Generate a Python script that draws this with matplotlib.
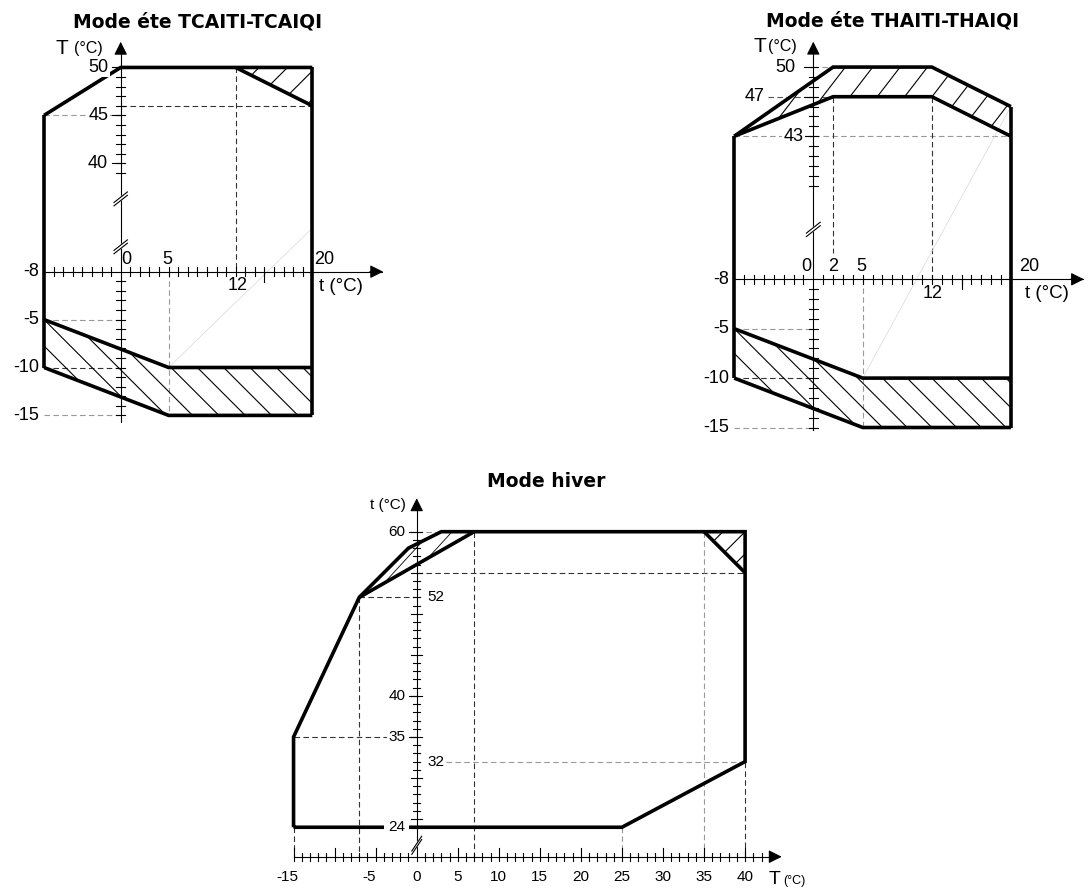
import numpy as np
import matplotlib.pyplot as plt
from matplotlib.patches import Polygon

plt.rcParams['font.family'] = ['Liberation Sans', 'DejaVu Sans']

# --- Mode ete TCAITI-TCAIQI : t outdoor (x), T water (y) ---
tc_top_t = [-8, 0, 20]
tc_top_T = [45, 50, 50]
tc_cut_t = [12, 20]
tc_cut_T = [50, 46]
tc_left_t = [-8, -8]
tc_left_T = [45, -10]
tc_right_t = [20, 20]
tc_right_T = [50, -15]
tc_ylab_hi = [50, 45, 40]
tc_ghost_t = [5, 19.8]
tc_ghost_y = [-10, 4.35]

# --- Mode ete THAITI-THAIQI ---
th_top_t = [-8, 2, 12, 20]
th_out_T = [43, 50, 50, 46]
th_in_T = [43, 47, 47, 43]
th_left_t = [-8, -8]
th_left_T = [43, -10]
th_right_t = [20, 20]
th_right_T = [46, -15]
th_ylab_hi = [50, 47, 43]
th_ghost_t = [5, 20]
th_ghost_T = [-10, 46]

# lower limits, same for both summer modes
low_t = [-8, 5, 20]
low_hi_T = [-5, -10, -10]
low_lo_T = [-10, -15, -15]
ylab_lo = [-5, -10, -15]

# --- Mode hiver : T outdoor (x), t water (y) ---
hv_out_T = [-15, -15, -7, -1, 3, 40, 40, 25, -15]
hv_out_t = [24, 35, 52, 58, 60, 60, 32, 24, 24]
hv_in_T = [-7, 7]
hv_in_t = [52, 60]
hv_cut_T = [35, 40]
hv_cut_t = [60, 55]
hv_ylab_left = [60, 40, 35, 24]
hv_ylab_right = [52, 32]
hv_xlab = [-15, -5, 0, 5, 10, 15, 20, 25, 30, 35, 40]

W, H = 1088, 891
fig = plt.figure(figsize=(W / 100, H / 100), dpi=100)

THICK = dict(color='k', lw=2.6, solid_capstyle='butt', solid_joinstyle='miter', zorder=3)
AXIS = dict(color='k', lw=0.8, zorder=2)
DARK = dict(color='#333333', lw=0.8, ls=(0, (5, 3)), zorder=1)
GRAY = dict(color='#999999', lw=0.8, ls=(0, (5, 3)), zorder=1)
NUM = 13
WHITE = dict(fc='white', ec='none', pad=1)


def panel(box, origin, s):
    l, t, r, b = box
    ax = fig.add_axes([l / W, 1 - b / H, (r - l) / W, (b - t) / H])
    ax.set_xlim((l - origin[0]) / s, (r - origin[0]) / s)
    ax.set_ylim((origin[1] - b) / s, (origin[1] - t) / s)
    ax.set_axis_off()
    return ax


def brk(vals, off):
    # values above the axis break are shifted down
    return [v - off if v > 30 else v for v in vals]


def hatch(ax, xs, ys, slope, c0, dc, lw=0.8):
    poly = Polygon(np.column_stack([xs, ys]), closed=True, fc='none', ec='none')
    ax.add_patch(poly)
    x0, x1 = ax.get_xlim()
    for k in range(-40, 41):
        c = c0 + k * dc
        ln, = ax.plot([x0, x1], [slope * x0 + c, slope * x1 + c], color='k', lw=lw, zorder=2)
        ln.set_clip_path(poly)


def arrow(ax, start, tip):
    ax.annotate('', xy=tip, xytext=start,
                arrowprops=dict(arrowstyle='-|>', color='k', lw=0.8,
                                mutation_scale=20, shrinkA=0, shrinkB=0))


def breakmark(ax, x, y, w, h, gap):
    for d in (-gap / 2, gap / 2):
        ax.plot([x - w / 2, x + w / 2], [y - h / 2 + d, y + h / 2 + d], color='k', lw=0.8, zorder=4)
    ax.fill([x - w / 2, x + w / 2, x + w / 2, x - w / 2],
            [y - h / 2 - gap / 2, y + h / 2 - gap / 2, y + h / 2 + gap / 2, y - h / 2 + gap / 2],
            color='white', zorder=3.5)


def summer_axes(ax, s, off, hi_ticks, title, ylab_hi, ylab_x, xlab_top, xlab_bot, ymax, ybot):
    h = 4.5 / s
    ax.plot([-8, 27.3], [0, 0], **AXIS)
    arrow(ax, (26, 0), (27.4, 0))
    ax.plot([0, 0], [ybot, ymax - 1], **AXIS)
    arrow(ax, (0, ymax - 1.2), (0, ymax))
    for t in range(-7, 20):
        if t != 0:
            ax.plot([t, t], [-h, h], **AXIS)
    ax.plot([15, 15], [0, -10 / s], **AXIS)
    for v in hi_ticks:
        y = v - off
        ax.plot([-h, h], [y, y], **AXIS)
    for v in range(-15, 0):
        ax.plot([-h, h], [v, v], **AXIS)
    for v in ylab_hi:
        ax.plot([-9 / s, 0], [v - off, v - off], **AXIS)
    ax.text(-8.5, 0, '-8', ha='right', va='center', fontsize=NUM)
    for v in ylab_lo:
        ax.text(-8.5, v, str(v), ha='right', va='center', fontsize=NUM)
    for v, x in zip(ylab_hi, ylab_x):
        ax.text(x, v - off, str(v), ha='right', va='center', fontsize=NUM, bbox=WHITE, zorder=4)
    for v, x in xlab_top:
        ax.text(x, 1.25, str(v), ha='center', va='center', fontsize=NUM)
    for v, x in xlab_bot:
        ax.text(x, -1.4, str(v), ha='center', va='center', fontsize=NUM)
    ax.text(8.0, 26.1, title, ha='center', va='center', fontsize=13.5,
            fontweight='bold', family='DejaVu Sans')


# ---------------- TCAITI-TCAIQI ----------------
s1, off1 = 9.58, 28.68
ax1 = panel((0, 0, 400, 440), (120.7, 271.7), s1)
ax1.plot([-8, 0], brk([45, 45], off1), **GRAY)
ax1.plot([0, 20], brk([46, 46], off1), **DARK)
ax1.plot([12, 12], [50 - off1, 0], **DARK)
ax1.plot([-8, 0], [-5, -5], **GRAY)
ax1.plot([-8, 0], [-10, -10], **DARK)
ax1.plot([-8, 0], [-15, -15], **GRAY)
ax1.plot([5, 5], [0, -15], **GRAY)
ax1.plot(tc_ghost_t, tc_ghost_y, color='#d8d8d8', lw=0.5, zorder=1)

hatch(ax1, [12, 20, 20], brk([50, 50, 46], off1), 1.0, 0.95, 2.96)
hatch(ax1, low_t + low_t[::-1], low_hi_T + low_lo_T[::-1], -1.0, -13, 2.75)

ax1.plot(tc_top_t, brk(tc_top_T, off1), **THICK)
ax1.plot(tc_cut_t, brk(tc_cut_T, off1), **THICK)
ax1.plot(tc_left_t, brk(tc_left_T, off1), **THICK)
ax1.plot(tc_right_t, brk(tc_right_T, off1), **THICK)
ax1.plot(low_t, low_hi_T, **THICK)
ax1.plot(low_t, low_lo_T, **THICK)

summer_axes(ax1, s1, off1, range(39, 51), 'Mode éte TCAITI-TCAIQI', tc_ylab_hi,
            [-1.3, -1.3, -1.3], [(0, 0.55), (5, 4.9)], [(12, 12.2)], 24.0, -15.66)
ax1.text(20.2, 1.3, '20', ha='left', va='center', fontsize=NUM)
ax1.text(20.7, -1.5, 't (°C)', ha='left', va='center', fontsize=13.5)
ax1.text(-5.5, 23.35, 'T', ha='right', va='center', fontsize=15)
ax1.text(-4.9, 23.35, '(°C)', ha='left', va='center', fontsize=11.5)
breakmark(ax1, 0, 7.6, 1.4, 1.1, 0.35)
breakmark(ax1, 0, 2.6, 1.4, 1.1, 0.35)

# ---------------- THAITI-THAIQI ----------------
s2, off2 = 9.88, 28.52
ax2 = panel((680, 0, 1088, 440), (813.3, 279.3), s2)
ax2.plot([0, 2], [50 - off2, 50 - off2], **GRAY)
ax2.plot([-4.6, 2], [47 - off2, 47 - off2], color='#555555', lw=0.8, ls=(0, (5, 3)))
ax2.plot([-8, 20], [43 - off2, 43 - off2], **GRAY)
ax2.plot([2, 2], [47 - off2, 2.66], **DARK)
ax2.plot([12, 12], [47 - off2, 0], **DARK)
ax2.plot([-8, 0], [-5, -5], **GRAY)
ax2.plot([-8, 0], [-10, -10], **DARK)
ax2.plot([-8, 0], [-15, -15], **GRAY)
ax2.plot([5, 5], [0, -15], **GRAY)
ax2.plot(th_ghost_t, brk(th_ghost_T, off2), color='#d8d8d8', lw=0.5, zorder=1)

hatch(ax2, th_top_t + th_top_t[::-1], brk(th_out_T + th_in_T[::-1], off2), 1.3, 13.66, 3.6)
hatch(ax2, low_t + low_t[::-1], low_hi_T + low_lo_T[::-1], -1.0, -13, 2.5)

ax2.plot(th_top_t, brk(th_out_T, off2), **THICK)
ax2.plot(th_top_t, brk(th_in_T, off2), **THICK)
ax2.plot(th_left_t, brk(th_left_T, off2), **THICK)
ax2.plot(th_right_t, brk(th_right_T, off2), **THICK)
ax2.plot(low_t, low_hi_T, **THICK)
ax2.plot(low_t, low_lo_T, **THICK)

summer_axes(ax2, s2, off2, range(38, 51), 'Mode éte THAITI-THAIQI', th_ylab_hi,
            [-1.85, -4.9, -1.0], [(0, -0.74), (2, 2.0), (5, 4.9)], [(12, 12.1)], 24.05, -15.25)
ax2.text(21.9, 1.28, '20', ha='center', va='center', fontsize=NUM)
ax2.text(21.4, -1.45, 't (°C)', ha='left', va='center', fontsize=13.5)
ax2.text(-4.8, 23.54, 'T', ha='right', va='center', fontsize=15)
ax2.text(-4.6, 23.54, '(°C)', ha='left', va='center', fontsize=11.5)
breakmark(ax2, 0, 5.05, 1.4, 1.1, 0.35)

# ---------------- Mode hiver ----------------
s3 = 8.21
ax3 = panel((270, 440, 820, 891), (416.7, 1024.3), s3)
y0 = 20.41
ax3.plot([0, 3], [60, 60], **GRAY)
ax3.plot([0, 40], [55, 55], **DARK)
ax3.plot([-7, 0], [52, 52], **DARK)
ax3.plot([-15, 0], [35, 35], **DARK)
ax3.plot([3.6, 40], [32, 32], **GRAY)
ax3.plot([-15, -15], [24, y0], **DARK)
ax3.plot([-7, -7], [52, y0], **DARK)
ax3.plot([7, 7], [60, y0], **DARK)
ax3.plot([25, 25], [24, y0], **GRAY)
ax3.plot([35, 35], [60, y0], **GRAY)
ax3.plot([40, 40], [32, y0], **DARK)

hatch(ax3, [-7, -1, 3, 7], [52, 58, 60, 60], 1.09, 58.07, 2.77, lw=0.6)
hatch(ax3, [35, 40, 40], [60, 60, 55], 1.0, 20, 2.7)

ax3.plot(hv_out_T, hv_out_t, **THICK)
ax3.plot(hv_in_T, hv_in_t, **THICK)
ax3.plot(hv_cut_T, hv_cut_t, **THICK)

h3 = 4 / s3
ax3.plot([-15, 44], [y0, y0], **AXIS)
arrow(ax3, (43, y0), (44.46, y0))
ax3.plot([0, 0], [y0 - 0.5, 63], **AXIS)
arrow(ax3, (0, 62.6), (0, 64.07))
for T in range(-15, 44):
    if T == 0:
        continue
    top = 9 / s3 if T % 5 == 0 else h3
    ax3.plot([T, T], [y0 - h3, y0 + top], **AXIS)
for t in range(24, 61):
    w = 5.5 / s3 if t % 5 == 0 else 3.5 / s3
    ax3.plot([-w, w], [t, t], **AXIS)
for t in hv_ylab_left:
    ax3.plot([-8 / s3, 0], [t, t], **AXIS)
    ax3.text(-1.4, t, str(t), ha='right', va='center', fontsize=11, zorder=5,
             bbox=dict(fc='white', ec='none', pad=3 if t == 24 else 1))
for t in hv_ylab_right:
    ax3.text(1.3, t, str(t), ha='left', va='center', fontsize=11, bbox=WHITE, zorder=5)
for T in hv_xlab:
    ax3.text(T - (0.8 if T < 0 else 0), 18.0, str(T), ha='center', va='center', fontsize=11)
ax3.text(-1.3, 63.2, 't (°C)', ha='right', va='center', fontsize=11)
ax3.text(43.6, 17.6, 'T', ha='center', va='center', fontsize=14)
ax3.text(44.6, 17.4, '(°C)', ha='left', va='center', fontsize=9)
ax3.text(15.75, 66.1, 'Mode hiver', ha='center', va='center', fontsize=13.5,
         fontweight='bold', family='DejaVu Sans')
breakmark(ax3, 0, 21.8, 1.2, 1.8, 0.4)

fig.savefig('out.png', dpi=100)
